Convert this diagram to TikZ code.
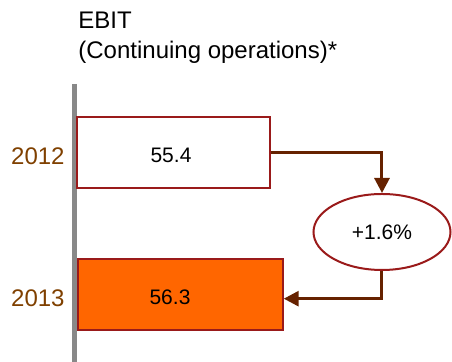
\documentclass[tikz,border=0pt]{standalone}
\usepackage{fontspec}
\setmainfont{Liberation Sans}
\usetikzlibrary{shapes, arrows.meta}
\definecolor{barred}{HTML}{9A1A1A}
\definecolor{linkbrown}{HTML}{662200}
\definecolor{yearbrown}{HTML}{7F4000}
\definecolor{barorange}{HTML}{FF6600}
\definecolor{axisgray}{HTML}{888888}

\begin{document}
\begin{tikzpicture}[x=0.5pt, y=-0.5pt,
        bar/.style={rectangle, draw=barred, line width=0.75pt, minimum height=35.5pt, inner sep=0pt},
        value/.style={font=\fontsize{10.5}{12}\selectfont},
        year/.style={anchor=east, inner sep=0pt, text=yearbrown, font=\fontsize{12}{14}\selectfont},
        link/.style={draw=linkbrown, line width=1.5pt, -{Triangle[length=7.5pt, width=7.5pt]}}]
        \useasboundingbox (0,0) rectangle (452,362);

        \node at (78,29) [anchor=base west, font=\fontsize{12}{14}\selectfont, inner sep=0pt] (title) {EBIT};
        \node at (78,59) [anchor=base west, font=\fontsize{12}{14}\selectfont, inner sep=0pt] (subtitle) {(Continuing operations)*};

        \draw[axisgray, line width=2.5pt] (75,84) -- (75,362);

        \node at (173.5,152.7) [bar, fill=white, minimum width=96.5pt] (bar12) {};
        \node at (180.5,294.7) [bar, fill=barorange, minimum width=102.5pt] (bar13) {};
        \node at (171,155) [value] (val12) {55.4};
        \node at (170,297) [value] (val13) {56.3};

        \node at (65,156) [year] (year12) {2012};
        \node at (65,298) [year] (year13) {2013};

        \node at (382,232) [ellipse, draw=barred, line width=1pt, fill=white, minimum width=68.5pt, minimum height=38pt, inner sep=0pt] (growth) {};
        \node at (382,232) [value] (growthval) {+1.6\%};

        \draw[link] (bar12.east) -| (growth.north);
        \draw[link] (growth.south) |- ([yshift=-2pt]bar13.east);

    \end{tikzpicture}
\end{document}
